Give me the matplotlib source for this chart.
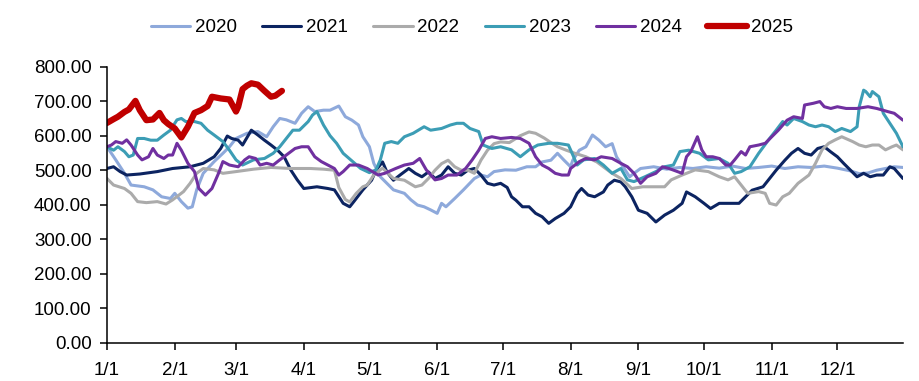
import matplotlib
matplotlib.use("Agg")
from matplotlib import pyplot as plt
from matplotlib.ticker import FormatStrFormatter

plt.rcParams['font.family'] = ['Liberation Sans', 'DejaVu Sans']

## data (day of year, 0 = 1/1)

d20 = [0, 4, 8, 11, 17, 21, 25, 29, 31, 34, 37, 39, 41, 44, 49, 53, 56, 59, 64, 69,
       73, 76, 79, 82, 86, 89, 92, 95, 99, 102, 106, 109, 112, 115, 117, 120, 122, 125, 128, 131,
       136, 139, 142, 145, 148, 151, 153, 155, 159, 163, 168, 171, 174, 177, 182, 187, 192, 196, 199, 203,
       206, 209, 212, 213, 216, 219, 222, 225, 228, 231, 233, 236, 239, 241, 244, 250, 256, 262, 268, 274,
       280, 286, 292, 298, 304, 310, 316, 322, 328, 334, 340, 344, 348, 352, 356, 360, 364]
v20 = [568, 530, 491, 457, 452, 443, 423, 418, 433, 409, 390, 394, 443, 491, 525, 549, 568, 592, 607, 612,
       597, 626, 650, 646, 636, 665, 684, 670, 674, 674, 686, 655, 645, 631, 597, 568, 520, 481, 462, 443,
       433, 414, 399, 394, 385, 375, 404, 394, 418, 443, 476, 486, 481, 496, 501, 500, 510, 510, 524, 529,
       549, 529, 510, 529, 558, 568, 602, 587, 568, 577, 539, 510, 481, 491, 505, 510, 503, 508, 505, 510,
       506, 512, 505, 508, 512, 505, 510, 508, 512, 506, 498, 490, 492, 500, 505, 510, 508]

d21 = [0, 3, 6, 9, 15, 23, 30, 38, 44, 49, 52, 55, 57, 60, 62, 66, 69, 72, 75, 78,
       81, 84, 87, 90, 96, 101, 104, 108, 111, 113, 117, 121, 123, 126, 128, 131, 134, 138, 141, 144,
       147, 150, 153, 156, 159, 162, 165, 168, 171, 174, 177, 180, 183, 185, 187, 190, 193, 196, 199, 202,
       205, 209, 212, 215, 217, 220, 223, 227, 229, 232, 235, 237, 240, 243, 247, 251, 255, 259, 263, 265,
       269, 273, 276, 280, 284, 289, 292, 295, 300, 303, 306, 310, 313, 316, 319, 322, 325, 328, 331, 334,
       337, 340, 343, 346, 349, 352, 355, 358, 360, 364]
v21 = [505, 510, 496, 486, 489, 496, 505, 510, 520, 539, 563, 599, 592, 587, 573, 616, 602, 587, 573, 558,
       539, 501, 472, 447, 452, 447, 443, 404, 394, 410, 443, 471, 500, 524, 495, 471, 486, 505, 491, 481,
       495, 476, 486, 510, 491, 486, 500, 505, 486, 462, 457, 462, 450, 423, 413, 394, 394, 375, 365, 346,
       360, 375, 394, 433, 447, 428, 423, 437, 457, 471, 466, 452, 423, 384, 375, 350, 370, 384, 404, 437,
       423, 404, 389, 404, 404, 404, 423, 442, 452, 476, 500, 529, 549, 563, 549, 544, 563, 568, 553, 539,
       519, 500, 481, 491, 481, 486, 486, 510, 505, 476]

d22 = [0, 3, 8, 11, 14, 18, 23, 27, 30, 35, 38, 41, 44, 49, 53, 59, 67, 75, 84, 93,
       99, 104, 106, 109, 111, 114, 117, 119, 122, 126, 131, 136, 141, 144, 147, 150, 153, 156, 159, 162,
       165, 168, 171, 174, 177, 180, 184, 189, 193, 196, 200, 203, 206, 210, 214, 219, 224, 228, 231, 235,
       240, 245, 249, 255, 258, 263, 269, 275, 280, 284, 287, 290, 293, 298, 301, 303, 306, 309, 312, 316,
       321, 324, 327, 330, 333, 336, 341, 344, 347, 350, 353, 356, 359, 361, 364]
v22 = [476, 457, 447, 433, 409, 406, 409, 402, 414, 438, 462, 491, 505, 501, 491, 496, 503, 508, 505, 505,
       503, 500, 450, 415, 408, 433, 452, 457, 486, 506, 476, 471, 452, 457, 476, 500, 519, 529, 510, 500,
       500, 491, 529, 558, 577, 582, 580, 600, 611, 607, 593, 580, 568, 558, 549, 539, 524, 505, 491, 476,
       447, 452, 452, 452, 472, 486, 501, 496, 481, 472, 481, 457, 433, 438, 433, 404, 399, 423, 433, 462,
       486, 520, 559, 578, 588, 597, 583, 573, 568, 573, 573, 559, 568, 573, 559]

d23 = [0, 3, 5, 8, 10, 12, 14, 17, 20, 23, 26, 29, 32, 34, 36, 40, 43, 46, 49, 53,
       56, 59, 62, 67, 72, 76, 79, 82, 85, 88, 92, 94, 96, 99, 102, 105, 108, 112, 116, 120,
       123, 125, 127, 130, 133, 136, 140, 145, 148, 153, 157, 160, 163, 166, 170, 172, 176, 180, 185, 189,
       193, 197, 202, 206, 211, 212, 215, 218, 223, 227, 231, 235, 238, 241, 246, 251, 255, 259, 262, 266,
       271, 275, 280, 284, 287, 290, 294, 298, 303, 306, 309, 311, 314, 318, 321, 324, 327, 330, 333, 336,
       340, 343, 344, 346, 347, 349, 350, 353, 355, 358, 361, 364]
v23 = [568, 558, 568, 554, 539, 544, 592, 592, 587, 587, 602, 616, 646, 650, 641, 641, 636, 616, 602, 583,
       558, 530, 515, 530, 534, 549, 568, 592, 616, 616, 641, 660, 670, 631, 600, 578, 549, 527, 505, 493,
       501, 530, 578, 583, 578, 597, 607, 626, 616, 621, 631, 636, 636, 621, 612, 573, 563, 568, 559, 539,
       559, 573, 578, 578, 573, 559, 515, 530, 534, 515, 491, 505, 472, 467, 481, 496, 510, 515, 554, 558,
       549, 530, 534, 520, 491, 496, 510, 549, 592, 616, 641, 631, 650, 641, 631, 626, 631, 626, 612, 621,
       612, 626, 684, 732, 728, 713, 728, 713, 665, 636, 607, 568]

d24 = [0, 2, 4, 7, 9, 11, 14, 16, 19, 21, 23, 26, 28, 30, 32, 34, 37, 40, 42, 45,
       48, 51, 53, 56, 60, 63, 65, 68, 70, 73, 76, 79, 82, 86, 89, 92, 95, 98, 101, 104,
       106, 108, 111, 115, 119, 124, 127, 132, 136, 140, 143, 146, 150, 153, 156, 160, 164, 167, 170, 173,
       176, 180, 185, 189, 193, 196, 199, 202, 205, 208, 211, 212, 216, 219, 223, 226, 231, 235, 238, 241,
       244, 247, 251, 254, 257, 263, 265, 267, 270, 272, 274, 277, 280, 283, 285, 287, 290, 292, 294, 298,
       301, 304, 307, 311, 314, 318, 319, 323, 326, 328, 331, 334, 338, 343, 348, 352, 357, 360, 363, 364]
v24 = [568, 573, 583, 578, 588, 573, 544, 530, 539, 563, 544, 534, 544, 544, 578, 558, 520, 496, 447, 428,
       447, 491, 525, 515, 510, 530, 539, 534, 515, 520, 515, 530, 544, 563, 568, 568, 539, 525, 515, 505,
       486, 496, 515, 515, 505, 486, 491, 505, 515, 520, 534, 501, 472, 476, 486, 486, 505, 530, 558, 592,
       597, 592, 595, 592, 578, 539, 515, 505, 491, 486, 486, 505, 525, 534, 530, 539, 534, 520, 510, 491,
       462, 481, 491, 510, 505, 491, 539, 554, 597, 559, 539, 539, 534, 515, 515, 530, 554, 544, 568, 573,
       578, 597, 616, 645, 655, 650, 689, 694, 699, 684, 679, 684, 679, 679, 684, 679, 670, 665, 650, 645]

d25 = [0, 3, 5, 8, 10, 13, 15, 18, 21, 24, 26, 28, 31, 34, 37, 40, 43, 46, 48, 52,
       56, 59, 60, 62, 64, 66, 69, 72, 75, 77, 80]
v25 = [637, 648, 655, 669, 676, 701, 674, 645, 647, 666, 645, 634, 621, 595, 626, 666, 674, 686, 713, 708,
       705, 670, 684, 735, 745, 752, 748, 730, 713, 716, 730]

years = ['2020', '2021', '2022', '2023', '2024', '2025']
couleurs = ['#8EA9DB', '#0C2461', '#ABABAB', '#3C9DB5', '#7030A0', '#C00000']
series = [(d20, v20), (d21, v21), (d22, v22), (d23, v23), (d24, v24), (d25, v25)]

month_days = [0, 31, 59, 90, 120, 151, 181, 212, 243, 273, 304, 334]
month_labels = ['1/1', '2/1', '3/1', '4/1', '5/1', '6/1', '7/1', '8/1', '9/1', '10/1', '11/1', '12/1']

fig = plt.figure(figsize=(9.2, 3.81), dpi=100)
ax = fig.add_axes([0.1163, 0.1005, 0.8652, 0.7244])

for (d, v), an, c in zip(series, years, couleurs):
    lw = 4.5 if an == '2025' else 2.2
    ax.plot(d, v, color=c, lw=lw, label=an, solid_capstyle='round')

ax.set_xlim(0, 364)
ax.set_ylim(0, 800)
ax.set_xticks(month_days)
ax.set_xticklabels(month_labels)
ax.set_yticks(range(0, 801, 100))
ax.yaxis.set_major_formatter(FormatStrFormatter('%.2f'))

for s in ['top', 'right']:
    ax.spines[s].set_visible(False)
for s in ['left', 'bottom']:
    ax.spines[s].set_linewidth(1.1)
ax.tick_params(direction='out', length=5, width=1.1, labelsize=13.5)
ax.tick_params(axis='x', pad=9)
ax.tick_params(axis='y', pad=6)

fig.legend(loc='center', bbox_to_anchor=(0.513, 0.927), ncol=6, frameon=False,
           fontsize=13.5, handlelength=2.1, handletextpad=0.25, columnspacing=1.35)

fig.savefig('out.png', dpi=100)
